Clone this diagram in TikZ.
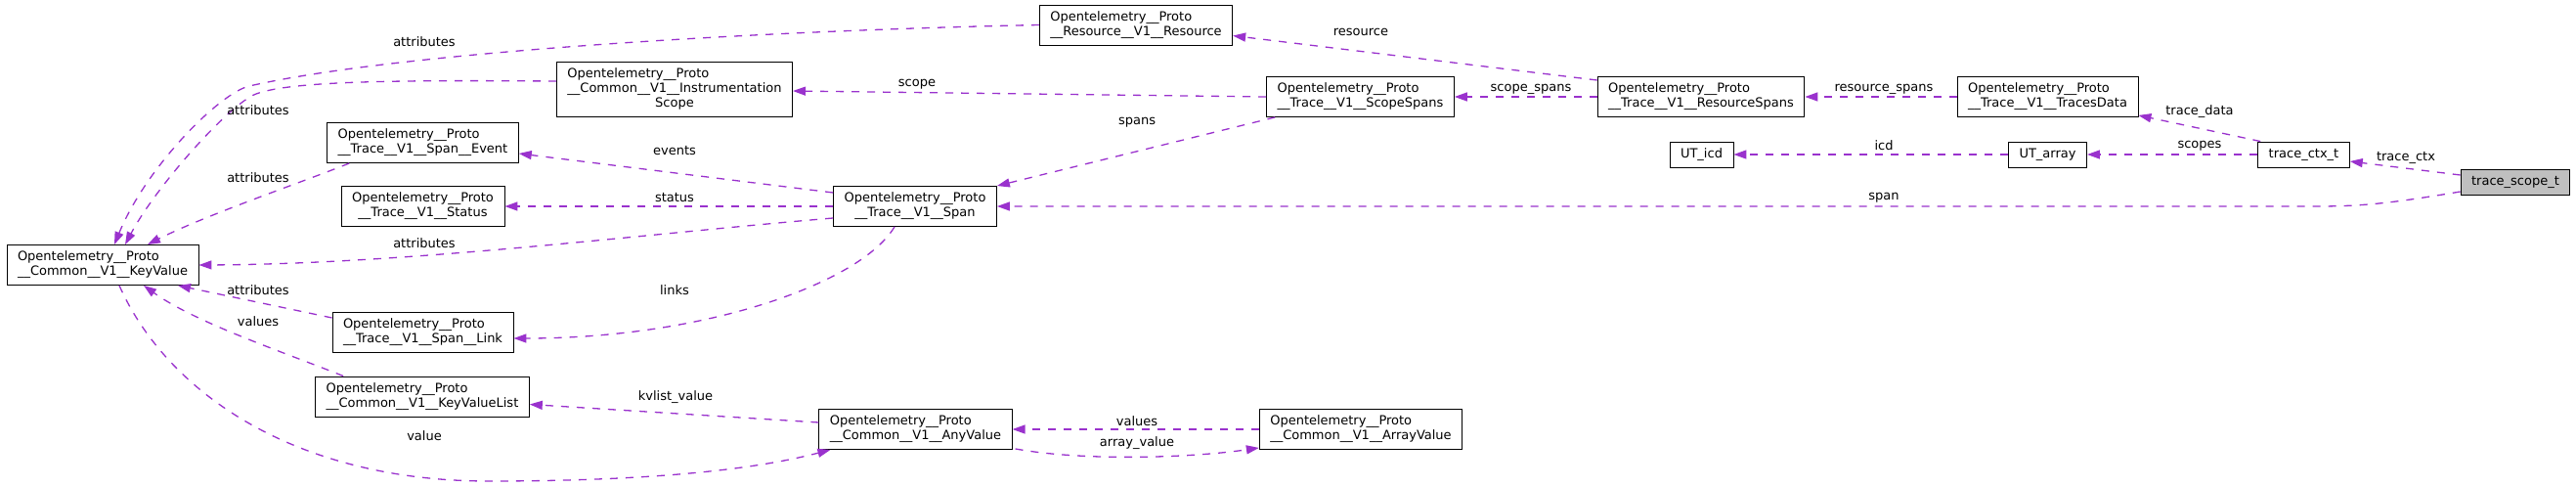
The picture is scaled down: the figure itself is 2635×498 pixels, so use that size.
\documentclass[tikz,border=0pt]{standalone}
\usepackage{fontspec}
\setmainfont{DejaVu Sans}
\usetikzlibrary{arrows.meta}
\definecolor{edgepurple}{HTML}{9A32CD}
\definecolor{selgray}{HTML}{BFBFBF}
\newcommand{\proto}[1]{\begin{tabular}{@{}l@{}}Opentelemetry\_\_Proto\\\multicolumn{1}{@{}c@{}}{#1}\end{tabular}}
\newcommand{\single}[1]{\begin{tabular}{@{}c@{}}#1\end{tabular}}

\begin{document}
\begin{tikzpicture}[%
      x=1pt, y=-1pt,
      cls/.style={draw=black, fill=white, line width=0.9pt, inner xsep=11pt, inner ysep=5.5pt, font=\fontsize{13}{15}\selectfont},
      uses/.style={color=edgepurple, line width=1.3pt, dash pattern=on 8pt off 8pt, -{Triangle[length=13pt,width=9pt]}},
      lbl/.style={inner sep=0pt, font=\fontsize{13}{15}\selectfont},
      ]
      \useasboundingbox (0,0) rectangle (2635,498);

      \node[cls, fill=selgray] (scopet) at (2573,186) {\single{trace\_scope\_t}};
      \node[cls] (ctx) at (2356.5,158) {\single{trace\_ctx\_t}};
      \node[cls] (utarray) at (2094.5,158) {\single{UT\_array}};
      \node[cls] (uticd) at (1740.5,158) {\single{UT\_icd}};
      \node[cls] (tracesdata) at (2094.5,99) {\proto{\_\_Trace\_\_V1\_\_TracesData}};
      \node[cls] (resspans) at (1740,99) {\proto{\_\_Trace\_\_V1\_\_ResourceSpans}};
      \node[cls] (resource) at (1162,25.5) {\proto{\_\_Resource\_\_V1\_\_Resource}};
      \node[cls] (scopespans) at (1391.5,99) {\proto{\_\_Trace\_\_V1\_\_ScopeSpans}};
      \node[cls] (instscope) at (690,91) {\begin{tabular}{@{}l@{}}Opentelemetry\_\_Proto\\\_\_Common\_\_V1\_\_Instrumentation\\\multicolumn{1}{@{}c@{}}{Scope}\end{tabular}};
      \node[cls] (span) at (936,211) {\proto{\_\_Trace\_\_V1\_\_Span}};
      \node[cls] (event) at (432.5,146) {\proto{\_\_Trace\_\_V1\_\_Span\_\_Event}};
      \node[cls] (status) at (432.5,211) {\proto{\_\_Trace\_\_V1\_\_Status}};
      \node[cls] (keyvalue) at (105,271) {\proto{\_\_Common\_\_V1\_\_KeyValue}};
      \node[cls] (link) at (432.5,340) {\proto{\_\_Trace\_\_V1\_\_Span\_\_Link}};
      \node[cls] (kvlist) at (432,405.5) {\proto{\_\_Common\_\_V1\_\_KeyValueList}};
      \node[cls] (anyvalue) at (936.5,439) {\proto{\_\_Common\_\_V1\_\_AnyValue}};
      \node[cls] (arrayvalue) at (1392,439) {\proto{\_\_Common\_\_V1\_\_ArrayValue}};

      \draw[uses] ([yshift=7pt]scopet.west) -- ([yshift=-7pt]ctx.east);
      \draw[uses] ([yshift=-10pt]scopet.west) .. controls (2450,207) and (2420,211) .. (2370,211) -- (span.east);
      \draw[uses] ([xshift=3pt]ctx.north west) -- ([yshift=2pt]tracesdata.south east);
      \draw[uses] (ctx.west) -- (utarray.east);
      \draw[uses] (utarray.west) -- (uticd.east);
      \draw[uses] (tracesdata.west) -- (resspans.east);
      \draw[uses] ([yshift=17pt]resspans.west) -- ([yshift=-11pt]resource.east);
      \draw[uses] (resspans.west) -- (scopespans.east);
      \draw[uses] (scopespans.west) -- ([yshift=-2pt]instscope.east);
      \draw[uses] ([xshift=9pt]scopespans.south west) -- (span.north east);
      \draw[uses] ([yshift=14pt]span.west) -- ([yshift=-11pt]event.east);
      \draw[uses] (span.west) -- (status.east);
      \draw[uses] ([yshift=-12pt]span.west) .. controls (650,240) and (420,270) .. (keyvalue.east);
      \draw[uses] ([xshift=-21pt]span.south) .. controls (880,290) and (720,346) .. ([yshift=-6pt]link.east);
      \draw[uses] ([yshift=8pt]instscope.west) .. controls (420,82) and (300,82) .. (262,96) .. controls (235,106) and (160,190) .. ([xshift=23pt]keyvalue.north);
      \draw[uses] (resource.west) .. controls (750,32) and (400,55) .. (255,88) .. controls (225,95) and (150,170) .. ([xshift=12pt]keyvalue.north);
      \draw[uses] ([xshift=23pt]event.south west) .. controls (310,186) and (210,220) .. ([xshift=46pt]keyvalue.north);
      \draw[uses] ([yshift=15pt]link.west) -- ([xshift=77pt]keyvalue.south);
      \draw[uses] ([xshift=29pt]kvlist.north west) .. controls (290,360) and (200,330) .. ([xshift=42pt]keyvalue.south);
      \draw[uses] ([xshift=17pt]keyvalue.south) .. controls (170,400) and (300,492) .. (500,492) .. controls (680,492) and (780,478) .. ([xshift=12pt]anyvalue.south west);
      \draw[uses] ([yshift=7pt]anyvalue.west) -- ([yshift=-8pt]kvlist.east);
      \draw[uses] (arrayvalue.west) -- (anyvalue.east);
      \draw[uses] ([xshift=3pt,yshift=1pt]anyvalue.south east) .. controls (1110,472) and (1220,468) .. ([yshift=2pt]arrayvalue.south west);

      \node[lbl] (l-tracectx) at (2461,161) {trace\_ctx};
      \node[lbl] (l-span) at (1927,202) {span};
      \node[lbl] (l-tracedata) at (2250,114) {trace\_data};
      \node[lbl] (l-scopes) at (2250,149) {scopes};
      \node[lbl] (l-icd) at (1927,149) {icd};
      \node[lbl] (l-resspans) at (1927,91) {resource\_spans};
      \node[lbl] (l-resource) at (1392,33) {resource};
      \node[lbl] (l-scopespans) at (1566,91) {scope\_spans};
      \node[lbl] (l-scope) at (938,86) {scope};
      \node[lbl] (l-spans) at (1163,125) {spans};
      \node[lbl] (l-events) at (690,154) {events};
      \node[lbl] (l-status) at (690,202) {status};
      \node[lbl] (l-attr1) at (434,43) {attributes};
      \node[lbl] (l-attr2) at (264,113) {attributes};
      \node[lbl] (l-attr3) at (264,182) {attributes};
      \node[lbl] (l-attr4) at (434,249) {attributes};
      \node[lbl] (l-attr5) at (264,297) {attributes};
      \node[lbl] (l-links) at (690,297) {links};
      \node[lbl] (l-values1) at (264,329) {values};
      \node[lbl] (l-kvlist) at (691,406) {kvlist\_value};
      \node[lbl] (l-value) at (434,446) {value};
      \node[lbl] (l-values2) at (1163,431) {values};
      \node[lbl] (l-arrayvalue) at (1163,453) {array\_value};
      \end{tikzpicture}
\end{document}
